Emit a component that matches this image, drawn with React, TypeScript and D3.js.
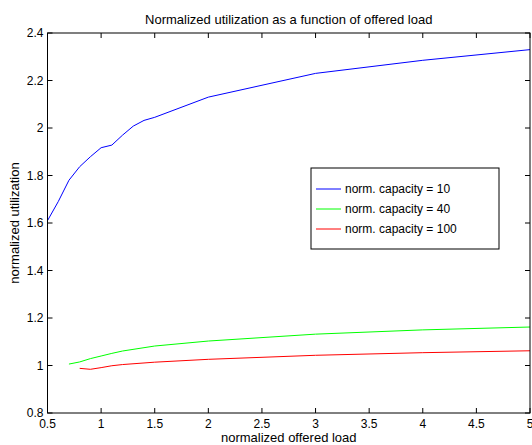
import React, { useEffect, useRef } from "react";
import * as d3 from "d3";

const xCap10 = [0.5, 0.6, 0.7, 0.8, 0.9, 1.0, 1.1, 1.2, 1.3, 1.4, 1.5, 2, 3, 4, 5];
const yCap10 = [1.61, 1.69, 1.78, 1.837, 1.879, 1.917, 1.928, 1.97, 2.008, 2.032, 2.045, 2.13, 2.23, 2.285, 2.33];

const xCap40 = [0.7, 0.8, 0.9, 1.0, 1.1, 1.2, 1.5, 2, 3, 4, 5];
const yCap40 = [1.006, 1.015, 1.029, 1.04, 1.051, 1.061, 1.082, 1.103, 1.132, 1.15, 1.162];

const xCap100 = [0.8, 0.9, 1.0, 1.1, 1.2, 1.5, 2, 3, 4, 5];
const yCap100 = [0.988, 0.984, 0.991, 0.999, 1.004, 1.014, 1.026, 1.043, 1.054, 1.062];

const seriesNames = ["norm. capacity = 10", "norm. capacity = 40", "norm. capacity = 100"];
const seriesColors = ["#0000ff", "#00ff00", "#ff0000"];

const xTicks = [0.5, 1, 1.5, 2, 2.5, 3, 3.5, 4, 4.5, 5];
const yTicks = [0.8, 1, 1.2, 1.4, 1.6, 1.8, 2, 2.2, 2.4];

const W = 532;
const H = 445;
const margin = { left: 47.5, right: 2, top: 33, bottom: 32 };

export default function App() {
  const ref = useRef<SVGSVGElement>(null);

  useEffect(() => {
    const svg = d3.select(ref.current);
    svg.selectAll("*").remove();
    const font = "Liberation Sans, Arial, sans-serif";

    const x = d3.scaleLinear().domain([0.5, 5]).range([margin.left, W - margin.right]);
    const y = d3.scaleLinear().domain([0.8, 2.4]).range([H - margin.bottom, margin.top]);

    svg.append("rect").attr("width", W).attr("height", H).attr("fill", "#fff");

    const series = [
      { xs: xCap10, ys: yCap10 },
      { xs: xCap40, ys: yCap40 },
      { xs: xCap100, ys: yCap100 },
    ];
    const line = d3
      .line<[number, number]>()
      .x((d) => x(d[0]))
      .y((d) => y(d[1]));

    series.forEach((s, i) => {
      const pts = s.xs.map((v, j) => [v, s.ys[j]] as [number, number]);
      svg
        .append("path")
        .attr("d", line(pts))
        .attr("fill", "none")
        .attr("stroke", seriesColors[i])
        .attr("stroke-width", 1);
    });

    // axes box with inward ticks (all four sides)
    const g = svg.append("g").attr("stroke", "#000").attr("stroke-width", 1);
    g.append("rect")
      .attr("x", x(0.5))
      .attr("y", y(2.4))
      .attr("width", x(5) - x(0.5))
      .attr("height", y(0.8) - y(2.4))
      .attr("fill", "none");
    const tl = 5;
    xTicks.forEach((t) => {
      g.append("line").attr("x1", x(t)).attr("x2", x(t)).attr("y1", y(0.8)).attr("y2", y(0.8) - tl);
      g.append("line").attr("x1", x(t)).attr("x2", x(t)).attr("y1", y(2.4)).attr("y2", y(2.4) + tl);
    });
    yTicks.forEach((t) => {
      g.append("line").attr("x1", x(0.5)).attr("x2", x(0.5) + tl).attr("y1", y(t)).attr("y2", y(t));
      g.append("line").attr("x1", x(5)).attr("x2", x(5) - tl).attr("y1", y(t)).attr("y2", y(t));
    });

    svg
      .append("g")
      .selectAll("text")
      .data(xTicks)
      .enter()
      .append("text")
      .attr("x", (d) => x(d))
      .attr("y", y(0.8) + 15)
      .attr("text-anchor", "middle")
      .style("font-family", font)
      .style("font-size", "12px")
      .text((d) => String(d));

    svg
      .append("g")
      .selectAll("text")
      .data(yTicks)
      .enter()
      .append("text")
      .attr("x", x(0.5) - 4)
      .attr("y", (d) => y(d) + 4)
      .attr("text-anchor", "end")
      .style("font-family", font)
      .style("font-size", "12px")
      .text((d) => String(d));

    svg
      .append("text")
      .attr("x", (x(0.5) + x(5)) / 2)
      .attr("y", 24)
      .attr("text-anchor", "middle")
      .style("font-family", font)
      .style("font-size", "13px")
      .text("Normalized utilization as a function of offered load");

    svg
      .append("text")
      .attr("x", (x(0.5) + x(5)) / 2)
      .attr("y", 442)
      .attr("text-anchor", "middle")
      .style("font-family", font)
      .style("font-size", "13px")
      .text("normalized offered load");

    svg
      .append("text")
      .attr("transform", `translate(19, ${(y(0.8) + y(2.4)) / 2}) rotate(-90)`)
      .attr("text-anchor", "middle")
      .style("font-family", font)
      .style("font-size", "13px")
      .text("normalized utilization");

    // legend
    const lg = svg.append("g");
    lg.append("rect")
      .attr("x", 311)
      .attr("y", 168)
      .attr("width", 188)
      .attr("height", 81)
      .attr("fill", "#fff")
      .attr("stroke", "#000");
    seriesNames.forEach((name, i) => {
      const ly = 189 + i * 20;
      lg.append("line")
        .attr("x1", 316)
        .attr("x2", 341)
        .attr("y1", ly)
        .attr("y2", ly)
        .attr("stroke", seriesColors[i]);
      lg.append("text")
        .attr("x", 345)
        .attr("y", ly + 4)
        .style("font-family", font)
        .style("font-size", "12px")
        .text(name);
    });
  }, []);

  return (
    <svg
      ref={ref}
      width={W}
      height={H}
      style={{ position: "absolute", left: 0, top: 0, display: "block" }}
    />
  );
}
